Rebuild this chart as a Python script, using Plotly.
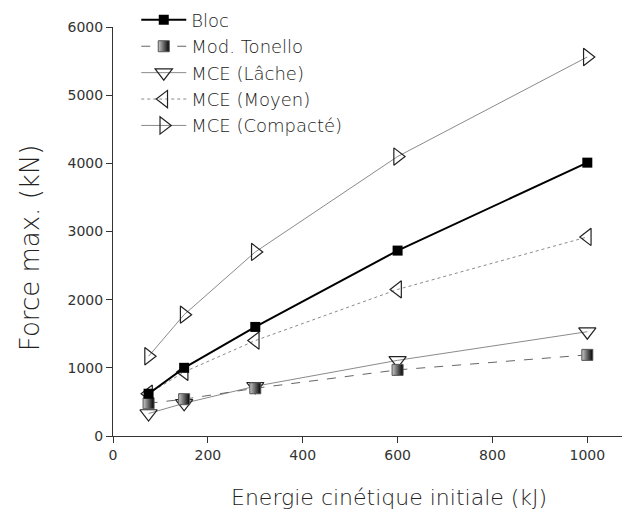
import plotly.graph_objects as go

# Energie cinetique initiale (kJ)
energie = [75, 150, 300, 600, 1000]

# Force max. (kN) per series
bloc = [620, 1000, 1600, 2720, 4010]
tonello = [480, 540, 700, 970, 1190]
mce_lache = [330, 480, 730, 1110, 1530]
mce_moyen = [620, 940, 1400, 2150, 2920]
mce_compacte = [1170, 1780, 2700, 4100, 5560]

font_main = "'DejaVu Sans', sans-serif"

fig = go.Figure()

fig.add_trace(go.Scatter(
    x=energie, y=mce_compacte, name="MCE (Compacté)", mode="lines+markers",
    line=dict(color="#8a8a8a", width=1),
    marker=dict(symbol="triangle-right-open", size=15, color="#222222", line=dict(width=1.2)),
    legendgroup="e", legendrank=5))
fig.add_trace(go.Scatter(
    x=energie, y=mce_moyen, name="MCE (Moyen)", mode="lines+markers",
    line=dict(color="#8a8a8a", width=1, dash="dot"),
    marker=dict(symbol="triangle-left-open", size=15, color="#222222", line=dict(width=1.2)),
    legendgroup="d", legendrank=4))
fig.add_trace(go.Scatter(
    x=energie, y=mce_lache, name="MCE (Lâche)", mode="lines+markers",
    line=dict(color="#8a8a8a", width=1),
    marker=dict(symbol="triangle-down-open", size=15, color="#222222", line=dict(width=1.2)),
    legendgroup="c", legendrank=3))
fig.add_trace(go.Scatter(
    x=energie, y=tonello, name="Mod. Tonello", mode="lines+markers",
    line=dict(color="#666666", width=1, dash="dash"),
    marker=dict(symbol="square", size=11, color="#c8c8c8",
                gradient=dict(type="horizontal", color="#000000"),
                line=dict(color="#555555", width=1)),
    legendgroup="b", legendrank=2))
fig.add_trace(go.Scatter(
    x=energie, y=bloc, name="Bloc", mode="lines+markers",
    line=dict(color="#000000", width=2),
    marker=dict(symbol="square", size=10, color="#000000"),
    legendgroup="a", legendrank=1))

# page is shifted by the 8px body margin, so margins are reduced by 8
fig.update_layout(
    width=630, height=516,
    margin=dict(l=105, r=8, t=19, b=88, autoexpand=False),
    paper_bgcolor="white", plot_bgcolor="white",
    font=dict(family=font_main, color="#333333"),
    legend=dict(x=0.045, y=1.062, xanchor="left", yanchor="top",
                font=dict(size=18, color="#1a1a1a", weight=300), bgcolor="rgba(0,0,0,0)",
                tracegroupgap=0, traceorder="grouped", itemwidth=45),
)

# axis titles as annotations (both sit a bit off the plot centre in the original)
fig.add_annotation(
    text="Energie cinétique initiale (kJ)", xref="paper", yref="paper",
    x=0.534, y=-0.15, xanchor="center", yanchor="middle", showarrow=False,
    font=dict(size=22, color="#222222", weight=300))
fig.add_annotation(
    text="Force max. (kN)", xref="paper", yref="paper", textangle=-90,
    x=-0.16, y=0.46, xanchor="center", yanchor="middle", showarrow=False,
    font=dict(size=26, color="#222222", weight=300))

fig.update_xaxes(
    range=[0, 1090], tickvals=[0, 200, 400, 600, 800, 1000],
    showgrid=False, zeroline=False, showline=True, linecolor="#333333", linewidth=1,
    ticks="outside", ticklen=6, tickcolor="#333333", automargin=False,
    tickfont=dict(size=14, color="#333333"),
)
fig.update_yaxes(
    range=[0, 6000], tickvals=[0, 1000, 2000, 3000, 4000, 5000, 6000],
    showgrid=False, zeroline=False, showline=True, linecolor="#333333", linewidth=1,
    ticks="outside", ticklen=6, tickcolor="#333333", automargin=False,
    tickfont=dict(size=14, color="#333333"),
)

fig.write_html("out.html")
